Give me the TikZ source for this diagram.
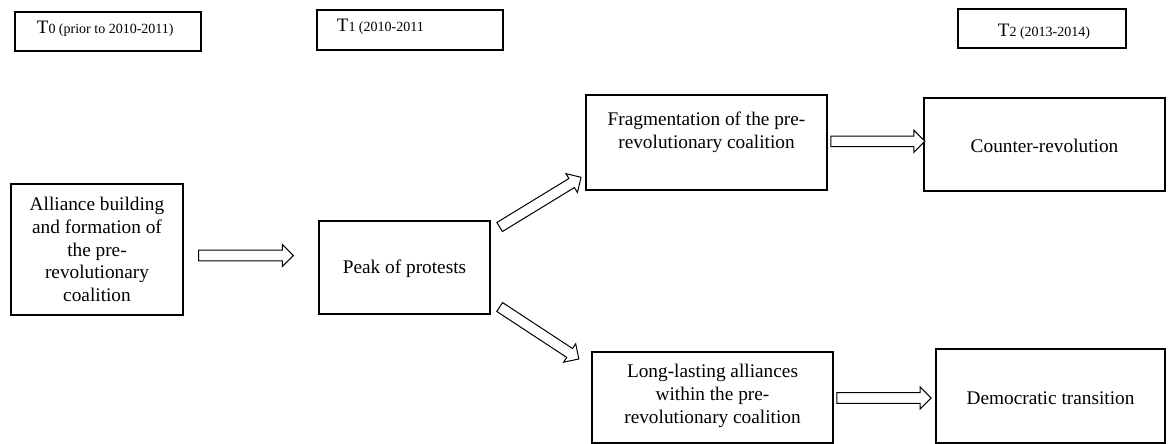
\documentclass[tikz,border=0pt]{standalone}
\usepackage{fontspec}
\setmainfont{Liberation Serif}
\usetikzlibrary{calc}
\newcommand\blockarr[2]{%
  \coordinate (ba-h) at ($(#2)!11pt!(#1)$);
  \draw[arr] ($(#1)!5.3pt!90:(#2)$) -- ($(ba-h)!5.3pt!90:(#2)$) -- ($(ba-h)!11pt!90:(#2)$) -- (#2)
    -- ($(ba-h)!11pt!-90:(#2)$) -- ($(ba-h)!5.3pt!-90:(#2)$) -- ($(#1)!5.3pt!-90:(#2)$) -- cycle;
}
\begin{document}
\begin{tikzpicture}[x=1pt,y=-1pt,
  box/.style={draw=black,line width=1.3pt,fill=white,inner sep=0pt},
  txt/.style={align=center,inner sep=0pt,font=\fontsize{19.3}{22.7}\selectfont},
  arr/.style={draw=black,line width=1pt,fill=white,line join=miter}]
\useasboundingbox[fill=white] (0,0) rectangle (1172,444);
% time boxes
\node[box,minimum width=186pt,minimum height=39pt] (t0) at (108,31.5) {};
\node[box,minimum width=186pt,minimum height=40pt] (t1) at (410,30) {};
\node[box,minimum width=168pt,minimum height=39pt] (t2) at (1042,28.5) {};
\node[anchor=base west,inner sep=0pt] (t0l) at (36.7,33.3) {{\fontsize{19}{22}\selectfont T}{\fontsize{14}{16}\selectfont 0 (prior to 2010-2011)}};
\node[anchor=base west,inner sep=0pt] (t1l) at (336.7,31.7) {{\fontsize{19}{22}\selectfont T}{\fontsize{14}{16}\selectfont 1 (2010-2011}};
\node[anchor=base west,inner sep=0pt] (t2l) at (997.7,36.7) {{\fontsize{19}{22}\selectfont T}{\fontsize{14}{16}\selectfont 2 (2013-2014)}};
% main boxes
\node[box,minimum width=172pt,minimum height=131pt] (all) at (97,249.5) {};
\node[txt] (allt) at (97,249.5) {Alliance building\\and formation of\\the pre-\\revolutionary\\coalition};
\node[box,minimum width=171pt,minimum height=93pt] (peak) at (404.5,267.5) {};
\node[txt] (peakt) at (404.5,268.5) {Peak of protests};
\node[box,minimum width=241pt,minimum height=95pt] (frag) at (706.5,142.5) {};
\node[txt] (fragt) at (706.5,132) {Fragmentation of the pre-\\revolutionary coalition};
\node[box,minimum width=241pt,minimum height=93pt] (counter) at (1044.5,144.5) {};
\node[txt] (countert) at (1044.5,145.5) {Counter-revolution};
\node[box,minimum width=241pt,minimum height=91pt] (long) at (712.5,397.5) {};
\node[txt] (longt) at (712.5,396) {Long-lasting alliances\\within the pre-\\revolutionary coalition};
\node[box,minimum width=229pt,minimum height=94pt] (dem) at (1050.5,396) {};
\node[txt] (demt) at (1050.5,398) {Democratic transition};
% arrow ends
\coordinate (a1s) at ([shift={(15,6)}]all.east);
\coordinate (a1e) at ([shift={(-25,-12)}]peak.west);
\coordinate (a2s) at ([shift={(9,-40.5)}]peak.east);
\coordinate (a2e) at ([shift={(-4.3,34.8)}]frag.west);
\coordinate (a3s) at ([shift={(9,39.5)}]peak.east);
\coordinate (a3e) at ([shift={(-12.5,-38.5)}]long.west);
\coordinate (a4s) at ([shift={(3.3,-1.2)}]frag.east);
\coordinate (a4e) at ([shift={(1.5,-3.2)}]counter.west);
\coordinate (a5s) at ([shift={(3.3,0.5)}]long.east);
\coordinate (a5e) at ([shift={(-4.3,2)}]dem.west);
\blockarr{a1s}{a1e}
\blockarr{a2s}{a2e}
\blockarr{a3s}{a3e}
\blockarr{a4s}{a4e}
\blockarr{a5s}{a5e}
\end{tikzpicture}
\end{document}
